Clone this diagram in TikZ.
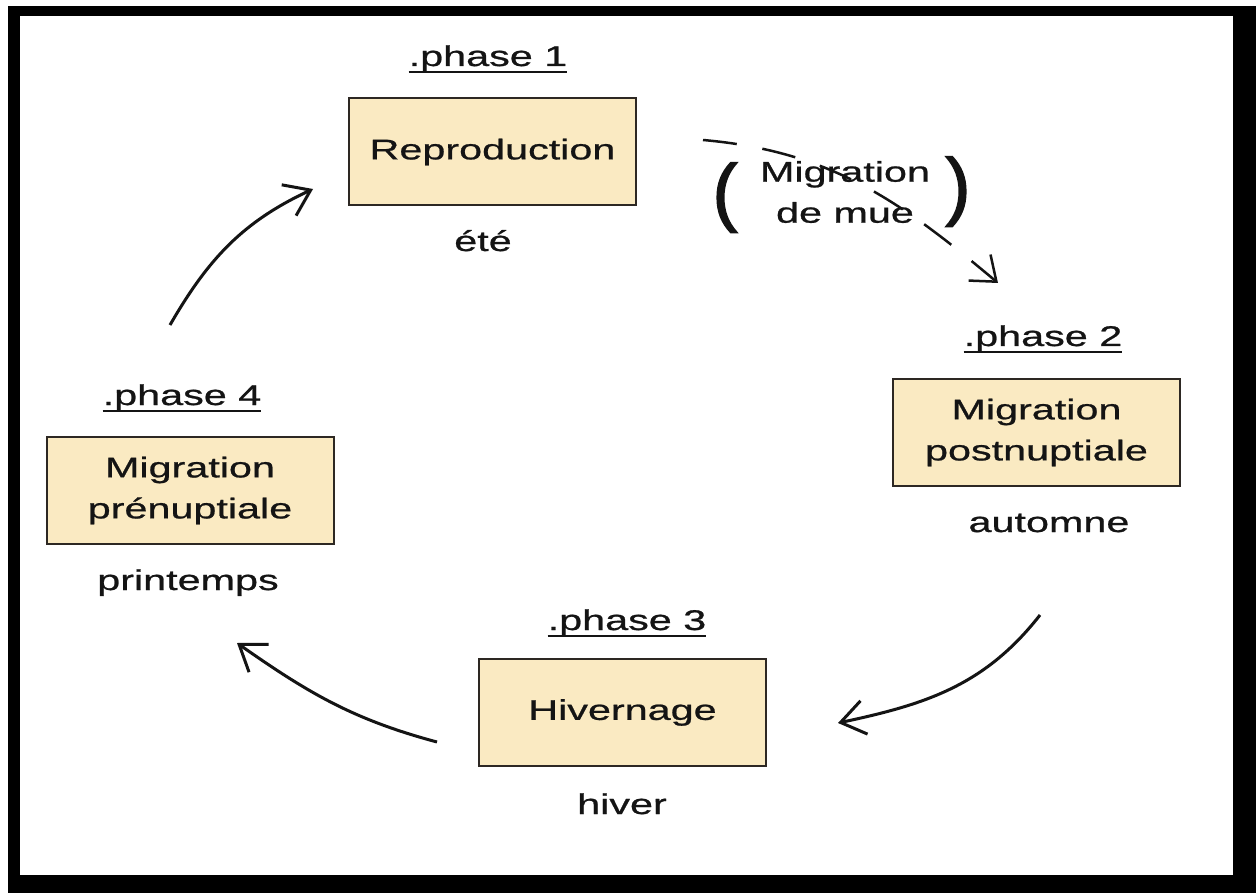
\documentclass[tikz,border=0pt]{standalone}
\usepackage{fontspec}
\setmainfont{Liberation Sans}[FakeStretch=1.45,FakeBold=0.8]
\newfontfamily\parenfont{Liberation Sans}[FakeBold=2]
\usetikzlibrary{arrows.meta,positioning}
\definecolor{boxfill}{RGB}{250,234,194}
\definecolor{boxline}{RGB}{45,40,35}
\definecolor{ink}{RGB}{20,20,20}

\begin{document}
\begin{tikzpicture}[x=1pt,y=-1pt,
    phase/.style={
% The shape:
rectangle,
% The size:
minimum width=287pt,
minimum height=107pt,
% The border:
draw=boxline, line width=2pt, fill=boxfill,
% The text:
align=center, text=ink, font=\fontsize{28.5}{41}\selectfont,
},
    title/.style={
% The shape:
inner sep=0pt, anchor=base,
% The text:
text=ink, font=\fontsize{28.5}{34}\selectfont,
},
    uline/.style={
% The border:
line width=2.5pt, draw=ink,
},
    cycle/.style={
% The border:
line width=3pt, draw=ink,
% The tip:
-{Straight Barb[length=24pt,width=34pt]},
},
    mue/.style={
% The border:
line width=2.5pt, draw=ink, dash pattern=on 34pt off 26pt,
% The tip:
-{Straight Barb[length=22pt,width=34pt]},
},
]
  % frame
  \fill [black] (8,6) rectangle (1256,893);
  \fill [white] (20,16) rectangle (1233,875);
  \useasboundingbox (0,0) rectangle (1256,893);

  \node[phase]                (R)  at (492.5,152)  {Reproduction};
  \node[phase]                (MP) at (1036.5,432.5) {Migration\\postnuptiale};
  \node[phase]                (H)  at (622.5,712.5) {Hivernage};
  \node[phase]                (MN) at (190,490.5)  {Migration\\prénuptiale};

  \node[title]                (t1) at (488,66)  {.phase 1};
  \node[title]                (t2) at (1043,346) {.phase 2};
  \node[title]                (t3) at (627,630) {.phase 3};
  \node[title]                (t4) at (182,405) {.phase 4};
  \foreach \t in {t1,t2,t3,t4}
    \draw [uline] ([yshift=-6pt]\t.base west) -- ([yshift=-6pt]\t.base east);

  \node[title]                (s1) at (483,251) {été};
  \node[title]                (s2) at (1049,532) {automne};
  \node[title]                (s3) at (622,814) {hiver};
  \node[title]                (s4) at (188,590) {printemps};

  \node[title,align=center,anchor=center,font=\fontsize{28.5}{41}\selectfont]
                              (mm) at (845,192) {Migration\\de mue};
  \node[title,font=\parenfont\fontsize{75}{75}\selectfont] (lp) at (725,217) {(};
  \node[title,font=\parenfont\fontsize{75}{75}\selectfont] (rp) at (958,211) {)};

  \coordinate (a4) at (170,325);
  \coordinate (a1) at (313,189);
  \coordinate (a2) at (1040,615);
  \coordinate (a3) at (838,723);
  \coordinate (b3) at (437,742);
  \coordinate (b4) at (237,643);
  \coordinate (d0) at (703,140);
  \coordinate (d1) at (998,283);

  \draw [cycle] (a4) to [out=60,in=205] (a1);
  \draw [cycle] (a2) to [out=-128,in=12] (a3);
  \draw [cycle] (b3) to [out=165,in=-35] (b4);
  \draw [mue]   (d0) to [out=-5,in=140] (d1);

\end{tikzpicture}
\end{document}
